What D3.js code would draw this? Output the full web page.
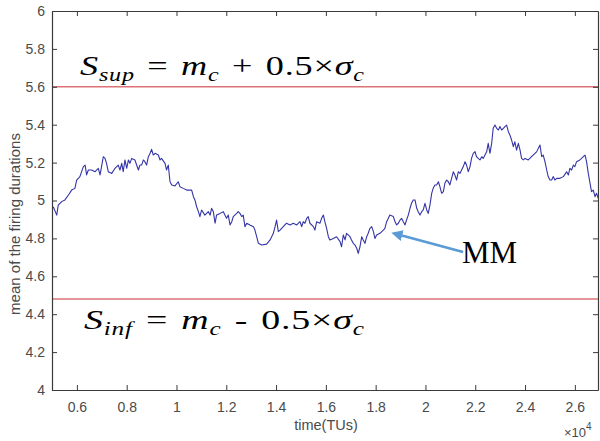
<!DOCTYPE html>
<html>
<head>
<meta charset="utf-8">
<script src="https://cdn.jsdelivr.net/npm/d3@7"></script>
<style>
  html, body { margin: 0; padding: 0; background: #fff; }
  svg { display: block; }
</style>
</head>
<body>
<svg id="chart" width="600" height="441"></svg>
<script>
// time in units of 10^4 TUs
const time = [
  0.505,0.519,0.525,0.539,0.552,0.566,0.579,0.592,0.599,0.612,0.626,0.633,0.639,0.646,0.659,0.673,0.686,0.693,0.699,0.706,
  0.713,0.719,0.726,0.740,0.753,0.766,0.773,0.780,0.786,0.793,0.800,0.807,0.813,0.820,0.833,0.847,0.853,0.860,0.867,0.873,
  0.880,0.887,0.894,0.900,0.907,0.914,0.927,0.934,0.940,0.954,0.960,0.967,0.974,0.981,0.994,1.007,1.014,1.027,1.041,1.061,
  1.068,1.074,1.081,1.088,1.094,1.101,1.114,1.128,1.135,1.141,1.148,1.155,1.161,1.175,1.188,1.201,1.208,1.215,1.222,1.228,
  1.242,1.248,1.255,1.262,1.268,1.275,1.282,1.295,1.309,1.315,1.322,1.329,1.342,1.362,1.376,1.389,1.396,1.402,1.409,1.416,
  1.429,1.442,1.456,1.469,1.483,1.496,
  1.503,1.509,1.516,1.523,1.529,1.536,1.550,1.556,1.563,1.576,1.583,1.590,1.596,1.603,1.610,1.616,1.630,1.643,1.657,1.663,
  1.670,1.677,1.683,1.697,1.703,1.710,1.717,1.724,1.730,1.737,1.744,1.750,1.757,1.764,1.770,1.777,1.784,1.791,1.797,1.804,
  1.817,1.831,1.837,1.844,1.851,1.857,1.871,1.878,1.884,1.891,1.898,1.904,1.911,1.918,1.924,1.931,1.938,1.944,1.951,1.958,
  1.965,1.971,1.978,1.985,1.991,1.998,2.005,2.011,2.018,2.025,2.031,2.038,2.045,2.052,2.058,2.065,2.072,2.078,2.085,2.092,
  2.098,2.105,2.112,2.118,2.125,2.132,2.139,2.145,2.152,2.159,2.165,2.172,2.179,2.185,2.192,2.199,2.205,2.212,2.219,2.226,
  2.232,2.239,2.246,2.252,2.259,2.266,2.272,2.279,2.286,2.293,2.299,2.306,2.313,2.319,2.326,2.333,2.339,2.346,2.353,2.359,
  2.366,2.373,2.380,2.386,2.393,2.400,2.413,2.426,2.440,2.447,2.453,2.460,2.467,2.473,2.480,2.487,2.493,2.500,2.507,2.513,
  2.520,2.527,2.540,2.554,2.567,2.574,2.580,2.587,2.594,2.600,2.607,2.620,2.627,2.634,2.641,2.647,2.654,2.661,2.667,2.674,
  2.681,2.687,2.694
];
const meanDuration = [
  4.967,4.923,4.976,4.994,5.003,5.029,5.055,5.064,5.108,5.126,5.179,5.187,5.135,5.161,5.161,5.152,5.170,5.135,5.179,5.231,
  5.222,5.196,5.152,5.143,5.170,5.187,5.161,5.196,5.152,5.214,5.170,5.214,5.196,5.222,5.214,5.161,5.187,5.187,5.214,5.205,
  5.187,5.231,5.249,5.270,5.240,5.249,5.240,5.214,5.222,5.196,5.161,5.187,5.099,5.082,5.077,5.099,5.073,5.064,5.055,5.055,
  5.020,5.003,4.967,4.941,4.915,4.950,4.923,4.941,4.923,4.959,4.941,4.880,4.923,4.932,4.941,4.906,4.923,4.871,4.888,4.915,
  4.932,4.941,4.932,4.915,4.923,4.862,4.880,4.871,4.862,4.844,4.809,4.774,4.765,4.770,4.792,4.827,4.862,4.897,4.836,4.844,
  4.862,4.880,4.871,4.880,4.871,4.888,
  4.862,4.888,4.880,4.906,4.915,4.880,4.862,4.844,4.888,4.880,4.906,4.923,4.888,4.853,4.809,4.792,4.800,4.809,4.783,4.756,
  4.818,4.792,4.827,4.809,4.792,4.774,4.765,4.748,4.721,4.756,4.809,4.792,4.774,4.809,4.827,4.853,4.862,4.836,4.800,4.818,
  4.827,4.844,4.853,4.888,4.906,4.923,4.915,4.888,4.871,4.880,4.897,4.906,4.888,4.871,4.897,4.923,4.959,4.985,5.003,5.003,
  4.959,4.941,4.923,4.941,4.950,4.985,4.950,4.932,4.976,5.038,5.064,5.082,5.082,5.099,5.073,5.038,5.047,5.091,5.108,5.099,
  5.082,5.117,5.152,5.135,5.108,5.152,5.143,5.161,5.179,5.205,5.187,5.152,5.179,5.222,5.249,5.258,5.231,5.222,5.214,5.231,
  5.222,5.240,5.258,5.302,5.249,5.302,5.381,5.398,5.381,5.372,5.390,5.372,5.381,5.390,5.398,5.363,5.346,5.319,5.284,5.310,
  5.266,5.302,5.266,5.222,5.214,5.222,5.214,5.231,5.249,5.258,5.275,5.293,5.231,5.240,5.205,5.161,5.126,5.108,5.108,5.126,
  5.108,5.117,5.117,5.126,5.152,5.135,5.170,5.161,5.187,5.179,5.205,5.214,5.222,5.231,5.240,5.205,5.143,5.091,5.047,5.055,
  5.020,5.038,5.012
];
const supThreshold = 5.6;
const infThreshold = 4.48;
const xTicks = [0.6,0.8,1,1.2,1.4,1.6,1.8,2,2.2,2.4,2.6];
const yTicks = [4,4.2,4.4,4.6,4.8,5,5.2,5.4,5.6,5.8,6];
const xDomain = [0.5, 2.693];
const yDomain = [4, 6];

const svg = d3.select("#chart");
const L = 52, R = 598, T = 11, B = 390;
const x = d3.scaleLinear().domain(xDomain).range([L, R]);
const y = d3.scaleLinear().domain(yDomain).range([B, T]);

const axisColor = "#3a3a3a";
const labelColor = "#4a4a4a";
const font = "'Liberation Sans', Arial, sans-serif";

svg.append("defs").append("clipPath").attr("id", "clip")
  .append("rect").attr("x", L).attr("y", T).attr("width", R - L).attr("height", B - T);

// threshold lines
svg.append("g").selectAll("line").data([supThreshold, infThreshold]).join("line")
  .attr("x1", L).attr("x2", R)
  .attr("y1", d => y(d)).attr("y2", d => y(d))
  .attr("stroke", "#de7277").attr("stroke-width", 1.6);

// data line
svg.append("path")
  .datum(time.map((t, i) => [t, meanDuration[i]]))
  .attr("clip-path", "url(#clip)")
  .attr("fill", "none")
  .attr("stroke", "#3434a8")
  .attr("stroke-width", 1.1)
  .attr("stroke-linejoin", "round")
  .attr("d", d3.line().x(d => x(d[0])).y(d => y(d[1])));

function styleAxis(g) {
  g.selectAll(".domain").attr("stroke", axisColor).attr("stroke-width", 1.2);
  g.selectAll(".tick line").attr("stroke", axisColor).attr("stroke-width", 1);
  g.selectAll(".tick text").attr("fill", labelColor).attr("font-family", font).attr("font-size", 14);
}

svg.append("g").attr("transform", `translate(0,${B})`)
  .call(d3.axisBottom(x).tickValues(xTicks).tickFormat(d => String(d)).tickSizeInner(-5).tickSizeOuter(0).tickPadding(12))
  .call(styleAxis);
svg.append("g").attr("transform", `translate(0,${T})`)
  .call(d3.axisTop(x).tickValues(xTicks).tickFormat("").tickSizeInner(-5).tickSizeOuter(0))
  .call(styleAxis);
svg.append("g").attr("transform", `translate(${L},0)`)
  .call(d3.axisLeft(y).tickValues(yTicks).tickFormat(d => String(d)).tickSizeInner(-5).tickSizeOuter(0).tickPadding(7))
  .call(styleAxis);
svg.append("g").attr("transform", `translate(${R},0)`)
  .call(d3.axisRight(y).tickValues(yTicks).tickFormat("").tickSizeInner(-5).tickSizeOuter(0))
  .call(styleAxis);

// axis labels
svg.append("text").attr("x", 326).attr("y", 430)
  .attr("text-anchor", "middle").attr("font-family", font).attr("font-size", 14.5)
  .attr("fill", labelColor).text("time(TUs)");
svg.append("text").attr("transform", "translate(20,224) rotate(-90)")
  .attr("text-anchor", "middle").attr("font-family", font).attr("font-size", 15)
  .attr("fill", labelColor).text("mean of the firing durations");
const exp = svg.append("text").attr("x", 564).attr("y", 437)
  .attr("font-family", font).attr("font-size", 13).attr("fill", labelColor);
exp.append("tspan").text("×10");
exp.append("tspan").attr("font-size", 10).attr("dy", -7).text("4");

// formula annotations
const serif = "'Liberation Serif', 'Times New Roman', serif";
function formula(xPos, yPos, sub, op, gap, targetWidth) {
  const t = svg.append("text").attr("x", xPos).attr("y", yPos)
    .attr("font-family", serif).attr("font-size", 27).attr("fill", "#000")
    .attr("word-spacing", 2).attr("letter-spacing", 0.6);
  t.append("tspan").attr("font-style", "italic").text("S");
  t.append("tspan").attr("font-style", "italic").attr("font-size", 18).attr("dy", 6).text(sub);
  t.append("tspan").attr("dy", -6).text(gap + "= ");
  t.append("tspan").attr("font-style", "italic").text("m");
  t.append("tspan").attr("font-style", "italic").attr("font-size", 18).attr("dy", 6).text("c");
  t.append("tspan").attr("dy", -6).text(" " + op + " 0.5×");
  t.append("tspan").attr("font-style", "italic").text("σ");
  t.append("tspan").attr("font-style", "italic").attr("font-size", 18).attr("dy", 6).text("c");
  const bb = t.node().getBBox();
  const s = targetWidth / bb.width;
  t.attr("transform", `translate(${xPos},0) scale(${s},1) translate(${-xPos},0)`);
}
formula(80, 75, "sup", "+", " ", 285);
formula(84, 329, "inf", "-", "  ", 281);

// MM annotation with arrow
svg.append("defs").append("marker").attr("id", "arrow")
  .attr("viewBox", "0 0 10 10").attr("refX", 2).attr("refY", 5)
  .attr("markerWidth", 4.5).attr("markerHeight", 4.5).attr("orient", "auto")
  .append("path").attr("d", "M0,0 L10,5 L0,10 Z").attr("fill", "#5b9bd5");
svg.append("line").attr("x1", 463).attr("y1", 252).attr("x2", 400).attr("y2", 235)
  .attr("stroke", "#5b9bd5").attr("stroke-width", 2.5).attr("marker-end", "url(#arrow)");
svg.append("text").attr("x", 462).attr("y", 263)
  .attr("font-family", serif).attr("font-size", 31).attr("fill", "#000").text("MM");
</script>
</body>
</html>
